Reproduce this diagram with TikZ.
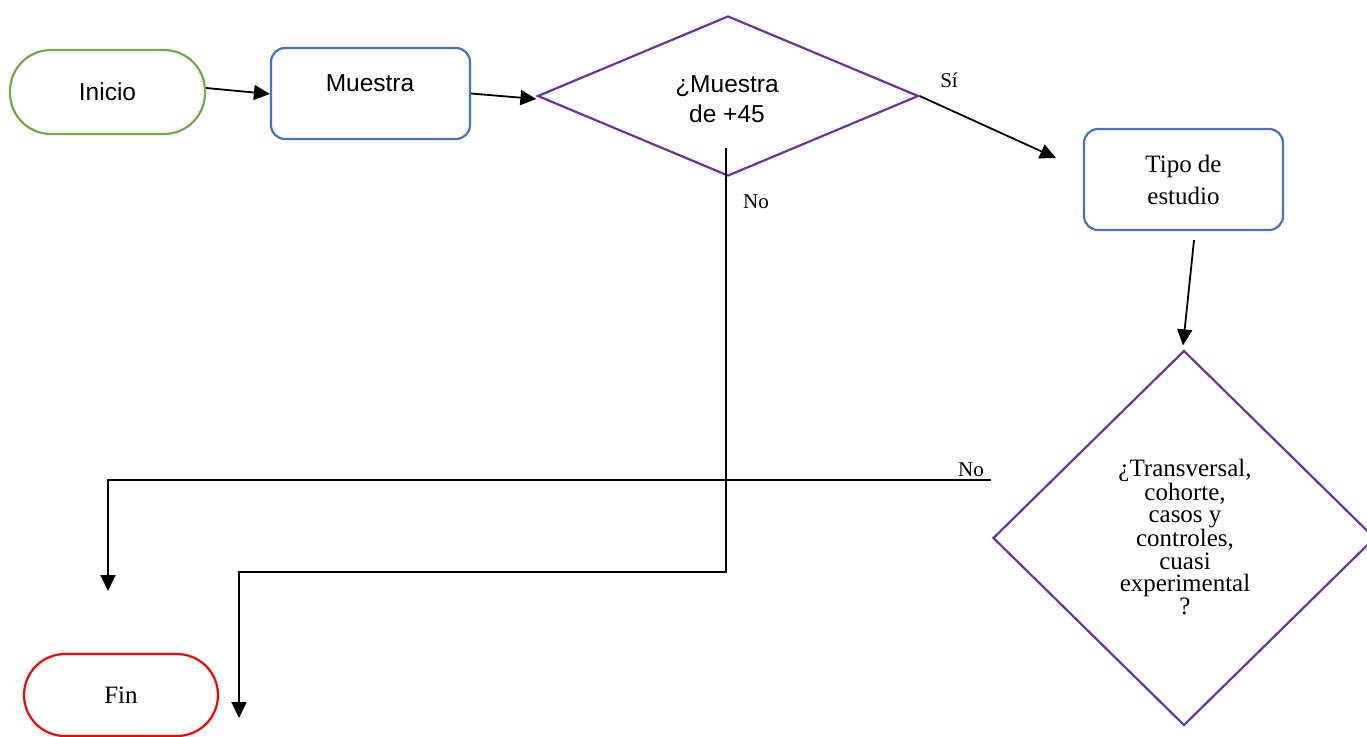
\documentclass[tikz,border=0pt]{standalone}
\usepackage{fontspec}
\setmainfont{Liberation Serif}
\newfontfamily\arialf{Liberation Sans}
\usetikzlibrary{shapes.geometric,arrows.meta}
\definecolor{cgreen}{HTML}{70AD47}
\definecolor{cblue}{HTML}{4472C4}
\definecolor{cpurple}{HTML}{7030A0}
\definecolor{cred}{HTML}{FF0000}
\tikzset{
  stadium/.style={draw, line width=2.2pt, rounded corners=41pt, minimum width=195pt, minimum height=84pt, inner sep=0pt},
  bluebox/.style={draw=cblue, line width=2.2pt, rounded corners=14pt, minimum width=199pt, inner sep=0pt},
  decision/.style={diamond, draw=cpurple, line width=2.2pt, inner sep=0pt, align=center},
  conn/.style={line width=1.8pt, -{Triangle[length=16pt,width=15pt]}},
  lbl/.style={font=\fontsize{21}{24}\selectfont, inner sep=0pt},
  sanstext/.style={font=\arialf\fontsize{24.5}{30}\selectfont, inner sep=0pt, align=center},
  serftext/.style={font=\fontsize{25}{32}\selectfont, inner sep=0pt, align=center}
}
\begin{document}
\begin{tikzpicture}[x=1pt,y=-1pt]
\useasboundingbox (0,0) rectangle (1367,736);
% nodes
\node[stadium, draw=cgreen, sanstext] (inicio) at (107.5,92) {Inicio};
\node[bluebox, minimum height=91pt] (muestra) at (370.5,93.5) {};
\node[sanstext] (muestraT) at (370,83) {Muestra};
\node[decision, minimum width=381pt, minimum height=160pt] (d1) at (728,96) {};
\node[sanstext] (d1T) at (727,99) {¿Muestra\\de +45};
\node[bluebox, minimum height=101pt, serftext] (tipo) at (1183.5,179.5) {Tipo de\\estudio};
\node[decision, minimum width=382pt, minimum height=375pt] (d2) at (1184,538) {};
\node[font=\fontsize{25}{22.5}\selectfont, inner sep=0pt, align=center] (d2T) at (1185,537) {¿Transversal,\\cohorte,\\casos y\\controles,\\cuasi\\experimental\\?};
\node[stadium, draw=cred, minimum width=194pt, minimum height=82pt, serftext] (fin) at (121,695) {Fin};
% labels
\node[lbl] (si) at (949,80) {Sí};
\node[lbl] (no1) at (756,202) {No};
\node[lbl] (no2) at (971,470) {No};
% free ends
\coordinate (siEnd) at (1056,158);
\coordinate (no1Start) at (726,148);
\coordinate (no1End) at (239,718);
\coordinate (no2Start) at (991,480);
\coordinate (no2End) at (108,591);
% connectors
\draw[conn] ([yshift=4pt]inicio.east) -- ([yshift=-0.5pt]muestra.west);
\draw[conn] (muestra.east) -- ([yshift=-3pt]d1.west);
\draw[conn] (d1.east) -- (siEnd);
\draw[conn] ([xshift=10.5pt,yshift=-9pt]tipo.south) -- ([xshift=-1pt,yshift=4pt]d2.north);
\draw[conn] (no1Start) |- (726,572) -| (no1End);
\draw[conn] (no2Start) -| (no2End);
\end{tikzpicture}
\end{document}
